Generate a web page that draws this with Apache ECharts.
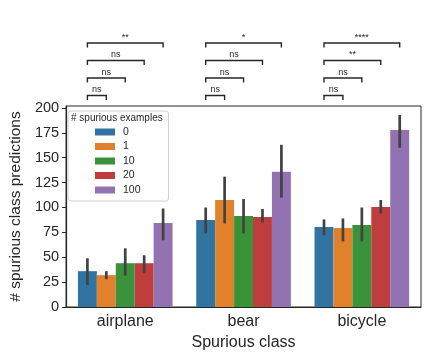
<!DOCTYPE html>
<html>
<head>
<meta charset="utf-8">
<script src="https://cdn.jsdelivr.net/npm/echarts@6/dist/echarts.min.js"></script>
<style>
  html, body { margin: 0; padding: 0; background: #fff; }
  #chart { width: 432px; height: 360px; }
</style>
</head>
<body>
<div id="chart"></div>
<script>
// 数据
const categories = ['airplane', 'bear', 'bicycle'];
const hues = ['0', '1', '10', '20', '100'];
const colors = ['#3274a1', '#e1812c', '#3a923a', '#c03d3e', '#9372b2'];

// bar heights (mean) per hue
const mean0 = [36, 87.5, 80.5];
const mean1 = [32, 107.5, 79.5];
const mean10 = [44, 91.5, 82.5];
const mean20 = [44, 90.5, 100.5];
const mean100 = [84.5, 136, 178];

// error bar ends per hue
const lo0 = [22, 74, 72];      const hi0 = [49, 100, 88];
const lo1 = [28, 84, 66];      const hi1 = [36, 131, 89];
const lo10 = [31.5, 74, 66];   const hi10 = [59, 108.5, 100];
const lo20 = [34, 85, 94];     const hi20 = [52, 98.5, 107.5];
const lo100 = [67, 110, 160];  const hi100 = [99, 163, 193];

// significance: bracket k joins hue 0 with hue k
const sigAirplane = ['ns', 'ns', 'ns', '**'];
const sigBear = ['ns', 'ns', 'ns', '*'];
const sigBicycle = ['ns', 'ns', '**', '****'];

const yTicks = [0, 25, 50, 75, 100, 125, 150, 175, 200];
const yMax = 202;

const means = [mean0, mean1, mean10, mean20, mean100];
const lows = [lo0, lo1, lo10, lo20, lo100];
const highs = [hi0, hi1, hi10, hi20, hi100];
const sigs = [sigAirplane, sigBear, sigBicycle];

const font = '"Liberation Sans", Arial, sans-serif';
const ink = '#262626';

let chart = echarts.init(document.getElementById('chart'));

// bars
let series = [];
for (let h = 0; h < hues.length; h++) {
    series.push({
        name: hues[h],
        type: 'bar',
        data: means[h],
        itemStyle: { color: colors[h] },
        barGap: '0%',
        barCategoryGap: '20%',
        animation: false
    });
}

// error bars
let errData = [];
for (let h = 0; h < hues.length; h++) {
    for (let c = 0; c < categories.length; c++) {
        errData.push([c, h, lows[h][c], highs[h][c]]);
    }
}
series.push({
    type: 'custom',
    data: errData,
    encode: { x: 0, y: [2, 3] },
    z: 10,
    silent: true,
    animation: false,
    renderItem: function (params, api) {
        let c = api.value(0), h = api.value(1);
        let band = api.size([1, 0])[0];
        let barW = band * 0.8 / 5;
        let x = api.coord([c, 0])[0] + (h - 2) * barW;
        let y1 = api.coord([c, api.value(2)])[1];
        let y2 = api.coord([c, api.value(3)])[1];
        return {
            type: 'line',
            shape: { x1: x, y1: y1, x2: x, y2: y2 },
            style: { stroke: '#424242', lineWidth: 2.7 }
        };
    }
});

// significance brackets above the axes
let sigData = [];
for (let c = 0; c < categories.length; c++) {
    for (let k = 0; k < 4; k++) {
        sigData.push([c, k + 1, sigs[c][k]]);
    }
}
series.push({
    type: 'custom',
    data: sigData,
    encode: { x: 0 },
    clip: false,
    silent: true,
    animation: false,
    renderItem: function (params, api) {
        let c = api.value(0), lvl = api.value(1);
        let label = sigData[params.dataIndex][2];
        let band = api.size([1, 0])[0];
        let barW = band * 0.8 / 5;
        let cx = api.coord([c, 0])[0];
        let x0 = cx - 2 * barW;
        let x1 = cx + (lvl - 2) * barW;
        let top = api.coord([c, yMax])[1];
        let y = top - 10.5 - (lvl - 1) * 17.5;
        return {
            type: 'group',
            children: [{
                type: 'polyline',
                shape: { points: [[x0, y + 4.5], [x0, y], [x1, y], [x1, y + 4.5]] },
                style: { stroke: ink, lineWidth: 1.4, fill: null }
            }, {
                type: 'text',
                style: {
                    x: (x0 + x1) / 2, y: y - 1,
                    text: label,
                    fill: ink,
                    font: '9px ' + font,
                    align: 'center',
                    verticalAlign: 'bottom'
                }
            }]
        };
    }
});

let option = {
    backgroundColor: '#fff',
    textStyle: { fontFamily: font },
    title: {
        text: '# spurious examples',
        left: 71,
        top: 113,
        padding: 0,
        textStyle: { fontSize: 10, fontWeight: 'normal', color: ink, fontFamily: font }
    },
    legend: {
        data: hues,
        orient: 'vertical',
        left: 68,
        top: 111,
        padding: [15, 28, 5, 27],
        itemWidth: 20,
        itemHeight: 7,
        itemGap: 2.5,
        icon: 'rect',
        borderColor: '#d0d0d0',
        borderWidth: 1,
        borderRadius: 3,
        backgroundColor: 'rgba(255,255,255,0.8)',
        textStyle: { fontSize: 10.5, color: ink, padding: [0, 0, 0, 3], lineHeight: 12 }
    },
    grid: {
        left: 62,
        right: 11,
        top: 106,
        bottom: 53,
        show: true,
        borderColor: ink,
        borderWidth: 1
    },
    xAxis: {
        type: 'category',
        data: categories,
        name: 'Spurious class',
        nameLocation: 'middle',
        nameGap: 25,
        nameTextStyle: { fontSize: 16, color: ink },
        axisLine: { lineStyle: { color: ink, width: 1.2 } },
        axisTick: { alignWithLabel: true, length: 4, lineStyle: { color: ink } },
        axisLabel: { fontSize: 16, color: ink, margin: 7 }
    },
    yAxis: {
        type: 'value',
        min: 0,
        max: yMax,
        name: '# spurious class predictions',
        nameLocation: 'middle',
        nameGap: 38,
        nameTextStyle: { fontSize: 15.5, color: ink },
        splitLine: { show: false },
        axisLine: { show: true, lineStyle: { color: ink, width: 1.2 } },
        axisTick: { show: true, length: 4, customValues: yTicks, lineStyle: { color: ink } },
        axisLabel: { fontSize: 14.5, color: ink, margin: 7, customValues: yTicks }
    },
    series: series
};

chart.setOption(option);
</script>
</body>
</html>
